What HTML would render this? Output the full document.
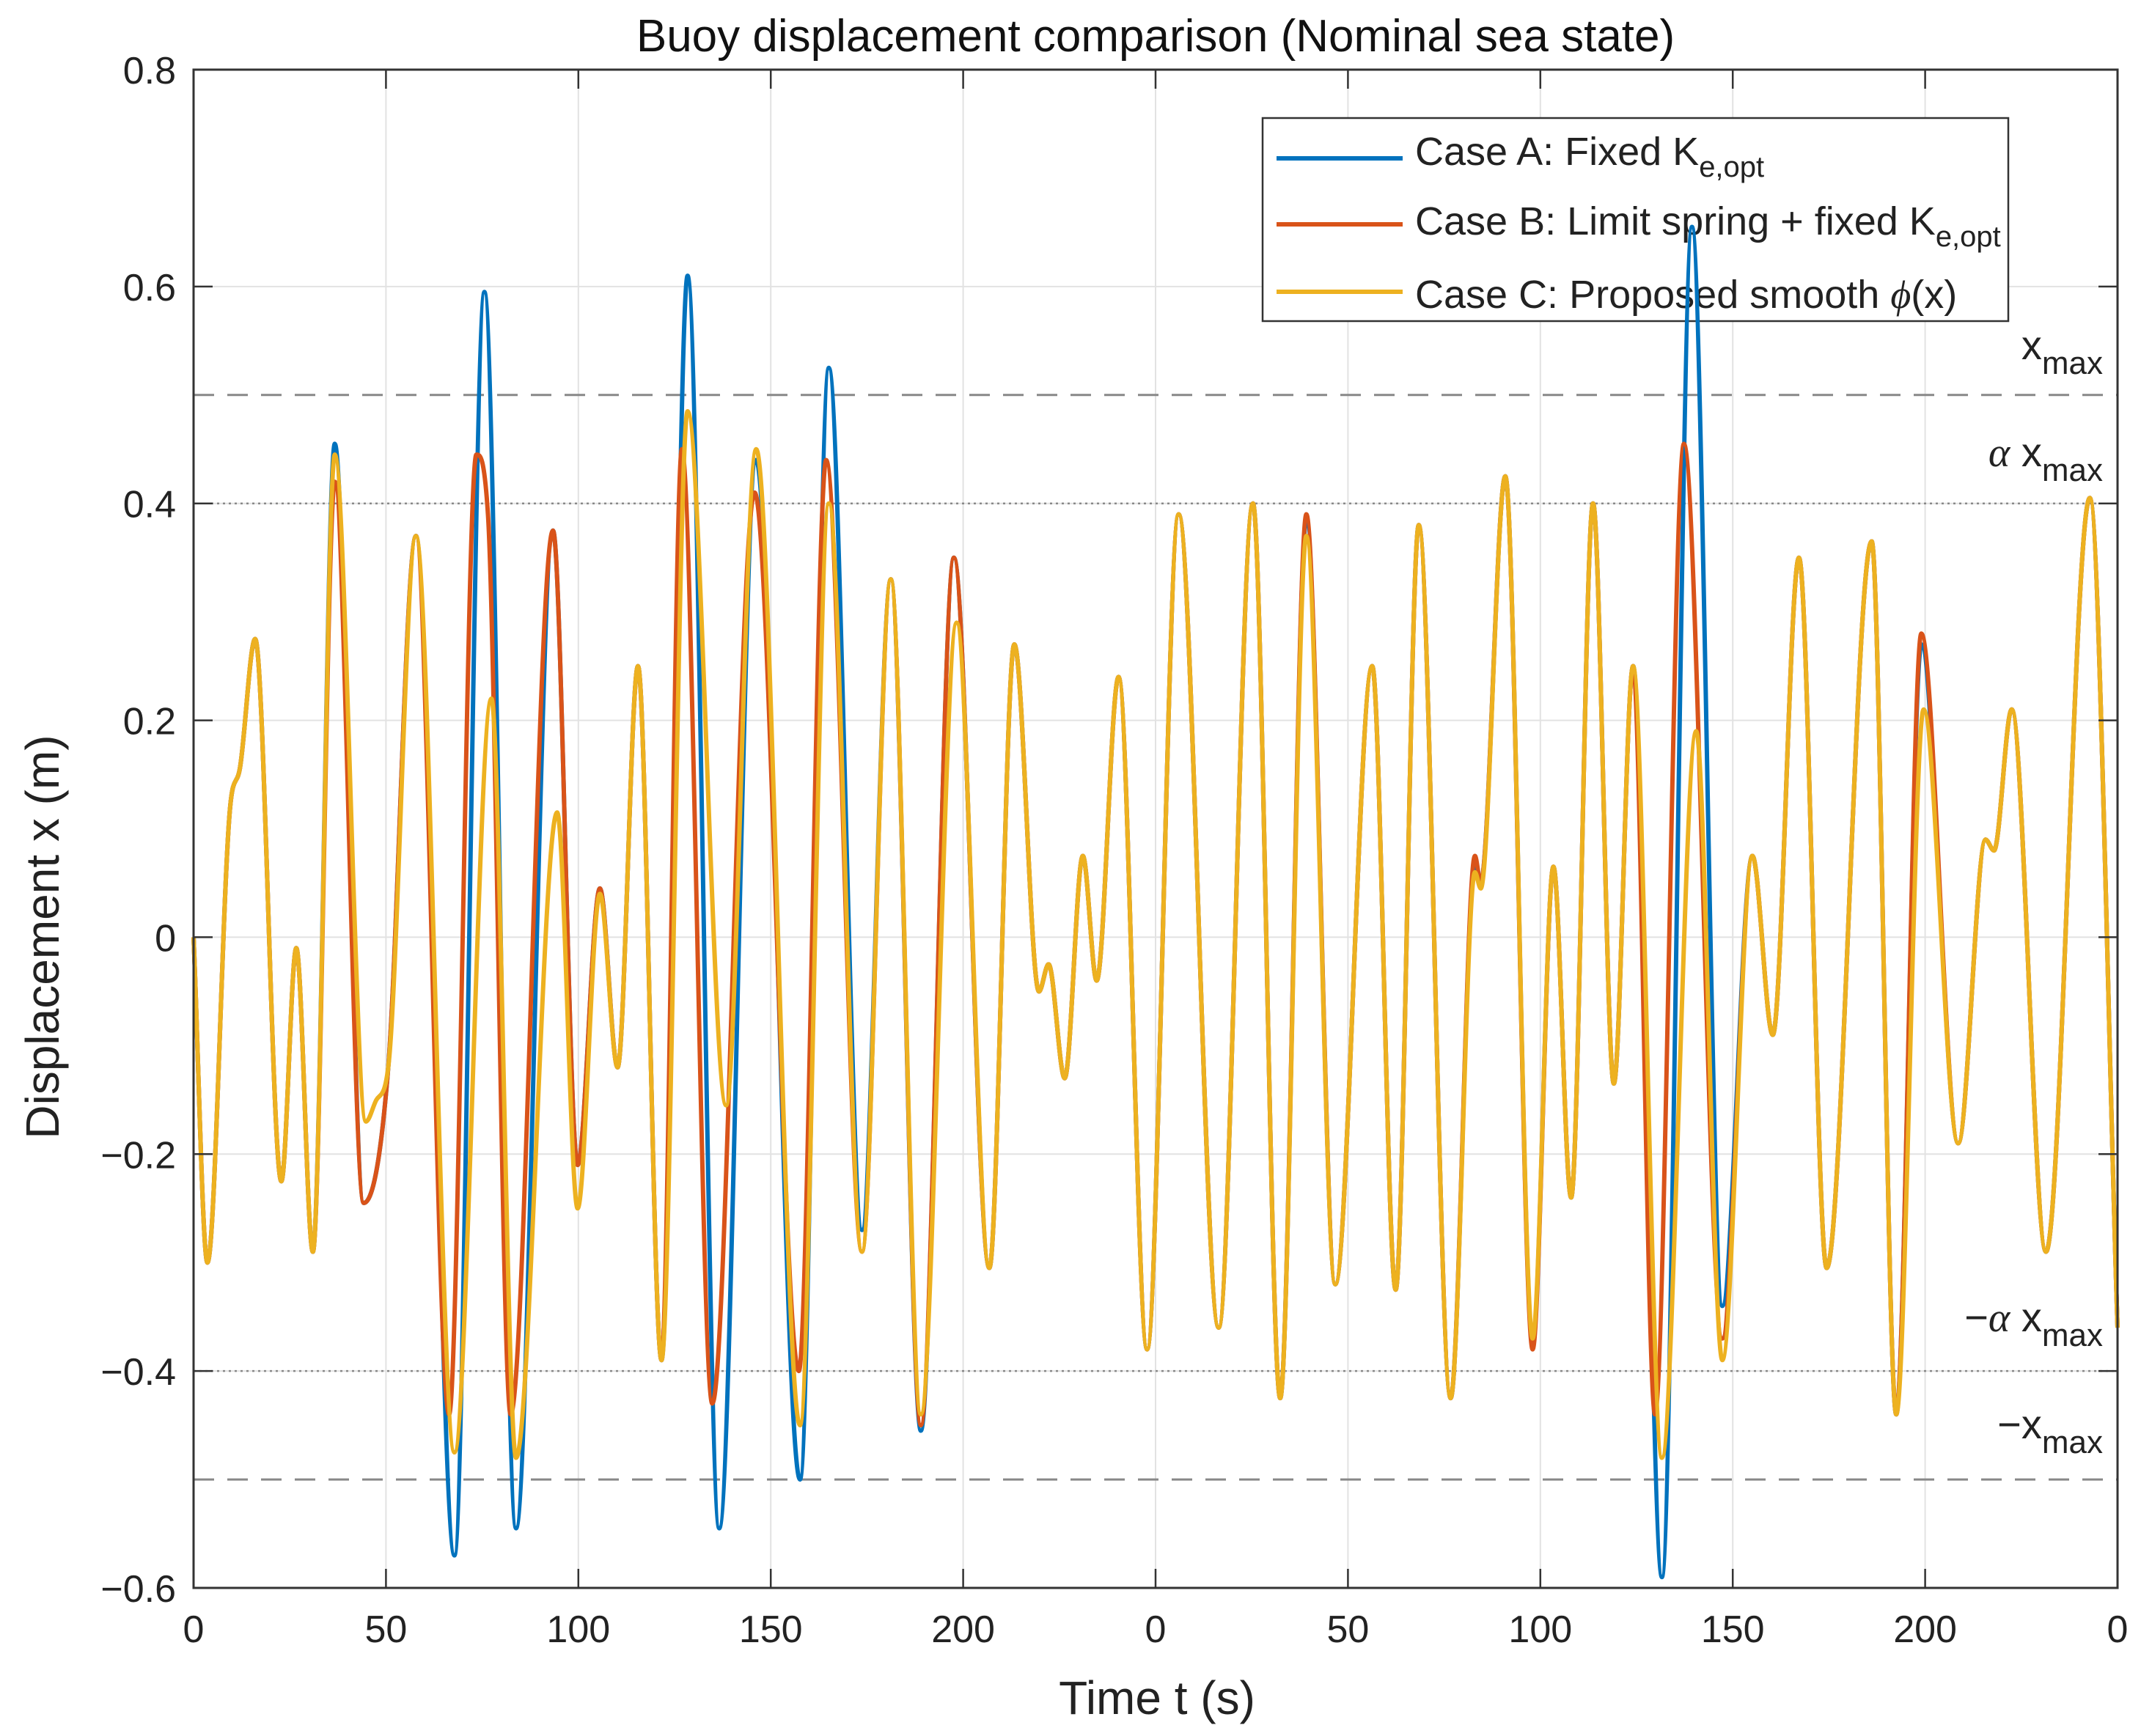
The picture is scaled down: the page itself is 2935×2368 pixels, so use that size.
<!DOCTYPE html>
<html><head><meta charset="utf-8">
<style>
html,body{margin:0;padding:0;background:#fff;}
svg{display:block;font-family:"Liberation Sans",Arial,sans-serif;}
</style></head>
<body>
<svg id="chart" width="2935" height="2368" viewBox="0 0 2935 2368" xmlns="http://www.w3.org/2000/svg">
<rect width="2935" height="2368" fill="#fff"/>
<g id="grid"></g>
<g id="refs"></g>
<g>
<rect x="1722" y="161" width="1017" height="277" fill="#fff" stroke="#333" stroke-width="2.5"/>
<line x1="1741" y1="216" x2="1913" y2="216" stroke="#0072BD" stroke-width="6"/>
<text x="1930" y="225" font-size="54" fill="#222">Case A: Fixed K<tspan font-size="40" dy="16">e,opt</tspan></text>
<line x1="1741" y1="306" x2="1913" y2="306" stroke="#D95319" stroke-width="6"/>
<text x="1930" y="320" font-size="54" fill="#222">Case B: Limit spring + fixed K<tspan font-size="40" dy="16">e,opt</tspan></text>
<line x1="1741" y1="398" x2="1913" y2="398" stroke="#EDB120" stroke-width="6"/>
<text x="1930" y="420" font-size="54" fill="#222">Case C: Proposed smooth <tspan font-family="Liberation Serif" font-style="italic">ϕ</tspan>(x)</text>
</g>
<g id="series"></g>
<g id="axes"></g>
<text x="1576" y="70" font-size="62" text-anchor="middle" fill="#111">Buoy displacement comparison (Nominal sea state)</text>
<text x="1578" y="2338" font-size="64" text-anchor="middle" fill="#222">Time t (s)</text>
<text transform="translate(80,1278) rotate(-90)" font-size="64" text-anchor="middle" fill="#222">Displacement x (m)</text>
<g font-size="56" fill="#222" text-anchor="end">
<text x="2868" y="490">x<tspan font-size="44" dy="20">max</tspan></text>
<text x="2868" y="636"><tspan font-family="Liberation Serif" font-style="italic">α</tspan> x<tspan font-size="44" dy="20">max</tspan></text>
<text x="2868" y="1816">−<tspan font-family="Liberation Serif" font-style="italic">α</tspan> x<tspan font-size="44" dy="20">max</tspan></text>
<text x="2868" y="1962">−x<tspan font-size="44" dy="20">max</tspan></text>
</g>
</svg>
<script>
const xTicks=[0,50,100,150,200,250,300,350,400,450,500];
const xTickLabels=["0","50","100","150","200","0","50","100","150","200","0"];
const yTicks=[-0.6,-0.4,-0.2,0,0.2,0.4,0.6,0.8];
const yTickLabels=["−0.6","−0.4","−0.2","0","0.2","0.4","0.6","0.8"];
const refDashed=[0.5,-0.5];
const refDotted=[0.4,-0.4];
const caseC=[[0,0],[3.6,-0.30],[9.5,0.12],[12,0.155],[16,0.275],[22.8,-0.225],[26.7,-0.01],[31,-0.29],[36.7,0.445],[44.8,-0.17],[47.5,-0.15],[50.6,-0.12],[57.8,0.37],[67.8,-0.475],[77.4,0.22],[83.8,-0.48],[94.5,0.115],[99.8,-0.25],[105.6,0.04],[110.2,-0.12],[115.5,0.25],[121.6,-0.39],[128.4,0.485],[138.4,-0.155],[146.2,0.45],[157.6,-0.45],[165.1,0.40],[173.7,-0.29],[181.2,0.33],[189,-0.44],[198.3,0.29],[206.8,-0.305],[213.3,0.27],[219.7,-0.05],[222.2,-0.025],[226.4,-0.13],[231.1,0.075],[234.7,-0.04],[240.4,0.24],[247.8,-0.38],[256,0.39],[266.4,-0.36],[275.3,0.40],[282.4,-0.425],[289.2,0.37],[296.7,-0.32],[306.3,0.25],[312.4,-0.325],[318.4,0.38],[326.7,-0.425],[333,0.06],[334.5,0.045],[340.9,0.425],[348,-0.37],[353.4,0.065],[358,-0.24],[363.7,0.40],[369.1,-0.135],[374.1,0.25],[381.6,-0.48],[390.5,0.19],[397.3,-0.39],[405.1,0.075],[410.4,-0.09],[417.2,0.35],[424.4,-0.305],[436.1,0.365],[442.5,-0.44],[449.6,0.21],[458.6,-0.19],[465.7,0.09],[467.9,0.08],[472.5,0.21],[481.4,-0.29],[492.8,0.405],[500,-0.36]];
const caseB=[[0,0],[3.6,-0.30],[9.5,0.12],[12,0.155],[16,0.275],[22.8,-0.225],[26.7,-0.01],[31,-0.29],[36.7,0.42],[44.2,-0.245],[50.6,-0.12],[57.8,0.37],[66.4,-0.44],[73.5,0.445],[76.5,0.39],[82.4,-0.44],[93.4,0.375],[99.8,-0.21],[105.6,0.045],[110.2,-0.12],[115.5,0.25],[121.6,-0.39],[126.9,0.45],[134.8,-0.43],[145.8,0.41],[157.3,-0.40],[164.4,0.44],[173.7,-0.29],[181.2,0.33],[189,-0.45],[197.6,0.35],[206.8,-0.305],[213.3,0.27],[219.7,-0.05],[222.2,-0.025],[226.4,-0.13],[231.1,0.075],[234.7,-0.04],[240.4,0.24],[247.8,-0.38],[256,0.39],[266.4,-0.36],[275.3,0.40],[282.4,-0.425],[289.2,0.39],[296.7,-0.32],[306.3,0.25],[312.4,-0.325],[318.4,0.38],[326.7,-0.425],[333,0.075],[334.5,0.05],[340.9,0.425],[348,-0.38],[353.4,0.065],[358,-0.24],[363.7,0.40],[369.1,-0.135],[374.1,0.25],[379.8,-0.44],[387.3,0.455],[397.3,-0.37],[405.1,0.075],[410.4,-0.09],[417.2,0.35],[424.4,-0.305],[436.1,0.365],[442.5,-0.44],[449,0.28],[458.6,-0.19],[465.7,0.09],[467.9,0.08],[472.5,0.21],[481.4,-0.29],[492.8,0.405],[500,-0.36]];
const caseA=[[0,0],[3.6,-0.30],[9.5,0.12],[12,0.155],[16,0.275],[22.8,-0.225],[26.7,-0.01],[31,-0.29],[36.7,0.455],[44.2,-0.245],[50.6,-0.12],[57.8,0.37],[67.8,-0.57],[75.6,0.595],[83.8,-0.545],[93.4,0.375],[99.8,-0.21],[105.6,0.045],[110.2,-0.12],[115.5,0.25],[121.6,-0.39],[128.4,0.61],[136.6,-0.545],[146.2,0.44],[157.6,-0.50],[165.1,0.525],[173.7,-0.27],[181.2,0.33],[189,-0.455],[197.6,0.35],[206.8,-0.305],[213.3,0.27],[219.7,-0.05],[222.2,-0.025],[226.4,-0.13],[231.1,0.075],[234.7,-0.04],[240.4,0.24],[247.8,-0.38],[256,0.39],[266.4,-0.36],[275.3,0.40],[282.4,-0.425],[289.2,0.385],[296.7,-0.32],[306.3,0.25],[312.4,-0.325],[318.4,0.38],[326.7,-0.425],[333,0.07],[334.5,0.05],[340.9,0.425],[348,-0.375],[353.4,0.065],[358,-0.24],[363.7,0.40],[369.1,-0.135],[374.1,0.25],[381.6,-0.59],[389.4,0.655],[397.3,-0.34],[405.1,0.075],[410.4,-0.09],[417.2,0.35],[424.4,-0.305],[436.1,0.365],[442.5,-0.44],[449,0.27],[458.6,-0.19],[465.7,0.09],[467.9,0.08],[472.5,0.21],[481.4,-0.29],[492.8,0.405],[500,-0.36]];

const L=264,R=2888,T=95,B=2166,XMIN=0,XMAX=500,YMIN=-0.6,YMAX=0.8;
function xs(t){return L+(t-XMIN)/(XMAX-XMIN)*(R-L);}
function ys(v){return B-(v-YMIN)/(YMAX-YMIN)*(B-T);}
const NS="http://www.w3.org/2000/svg";
function mk(tag,parent,attrs){const e=document.createElementNS(NS,tag);for(const k in attrs)e.setAttribute(k,attrs[k]);parent.appendChild(e);return e;}
const grid=document.getElementById('grid'),axes=document.getElementById('axes'),refs=document.getElementById('refs'),series=document.getElementById('series');

xTicks.forEach((t,i)=>{
  const g=mk('line',grid,{x1:xs(t),x2:xs(t),y1:T,y2:B,stroke:'#e2e2e2','stroke-width':2});
  
  
  const a=mk('line',axes,{x1:xs(t),x2:xs(t),y1:B,y2:B-26,stroke:'#333','stroke-width':2.5});
  
  
  const b=mk('line',axes,{x1:xs(t),x2:xs(t),y1:T,y2:T+26,stroke:'#333','stroke-width':2.5});
  
  
  const tx=mk('text',axes,{x:xs(t),y:B+74,'font-size':52,'text-anchor':'middle',fill:'#222'});
  tx.textContent=xTickLabels[i];
  
  
});
yTicks.forEach((v,i)=>{
  const g=mk('line',grid,{x1:L,x2:R,y1:ys(v),y2:ys(v),stroke:'#e2e2e2','stroke-width':2});
  
  
  const a=mk('line',axes,{x1:L,x2:L+26,y1:ys(v),y2:ys(v),stroke:'#333','stroke-width':2.5});
  
  
  const b=mk('line',axes,{x1:R,x2:R-26,y1:ys(v),y2:ys(v),stroke:'#333','stroke-width':2.5});
  
  
  const tx=mk('text',axes,{x:L-24,y:ys(v)+19,'font-size':52,'text-anchor':'end',fill:'#222'});
  tx.textContent=yTickLabels[i];
  
  
});
const box=mk('rect',axes,{x:L,y:T,width:R-L,height:B-T,fill:'none',stroke:'#333','stroke-width':3});



refDashed.forEach(v=>{
  const l=mk('line',refs,{x1:L,x2:R,y1:ys(v),y2:ys(v),stroke:'#888','stroke-width':3,'stroke-dasharray':'28 18'});
  
  
});
refDotted.forEach(v=>{
  const l=mk('line',refs,{x1:L,x2:R,y1:ys(v),y2:ys(v),stroke:'#888','stroke-width':2.5,'stroke-dasharray':'3 5'});
  
  
});

function monotonePath(pts){
  const n=pts.length,x=pts.map(p=>p[0]),y=pts.map(p=>p[1]);
  const d=[],m=new Array(n);
  for(let i=0;i<n-1;i++)d.push((y[i+1]-y[i])/(x[i+1]-x[i]));
  m[0]=d[0];m[n-1]=d[n-2];
  for(let i=1;i<n-1;i++){m[i]=(d[i-1]*d[i]<=0)?0:(d[i-1]+d[i])/2;}
  for(let i=0;i<n-1;i++){
    if(d[i]===0){m[i]=0;m[i+1]=0;continue;}
    const a=m[i]/d[i],b=m[i+1]/d[i],s=a*a+b*b;
    if(s>9){const t=3/Math.sqrt(s);m[i]=t*a*d[i];m[i+1]=t*b*d[i];}
  }
  let s='M'+xs(x[0]).toFixed(1)+','+ys(y[0]).toFixed(1);
  for(let i=0;i<n-1;i++){
    const h=x[i+1]-x[i];
    const c1x=x[i]+h/3,c1y=y[i]+m[i]*h/3,c2x=x[i+1]-h/3,c2y=y[i+1]-m[i+1]*h/3;
    s+='C'+xs(c1x).toFixed(1)+','+ys(c1y).toFixed(1)+' '+xs(c2x).toFixed(1)+','+ys(c2y).toFixed(1)+' '+xs(x[i+1]).toFixed(1)+','+ys(y[i+1]).toFixed(1);
  }
  return s;
}
const pa=mk('path',series,{d:monotonePath(caseA),fill:'none',stroke:'#0072BD','stroke-width':6,'stroke-linejoin':'round'});


const pb=mk('path',series,{d:monotonePath(caseB),fill:'none',stroke:'#D95319','stroke-width':6,'stroke-linejoin':'round'});


const pc=mk('path',series,{d:monotonePath(caseC),fill:'none',stroke:'#EDB120','stroke-width':6,'stroke-linejoin':'round'});


</script>
</body></html>
